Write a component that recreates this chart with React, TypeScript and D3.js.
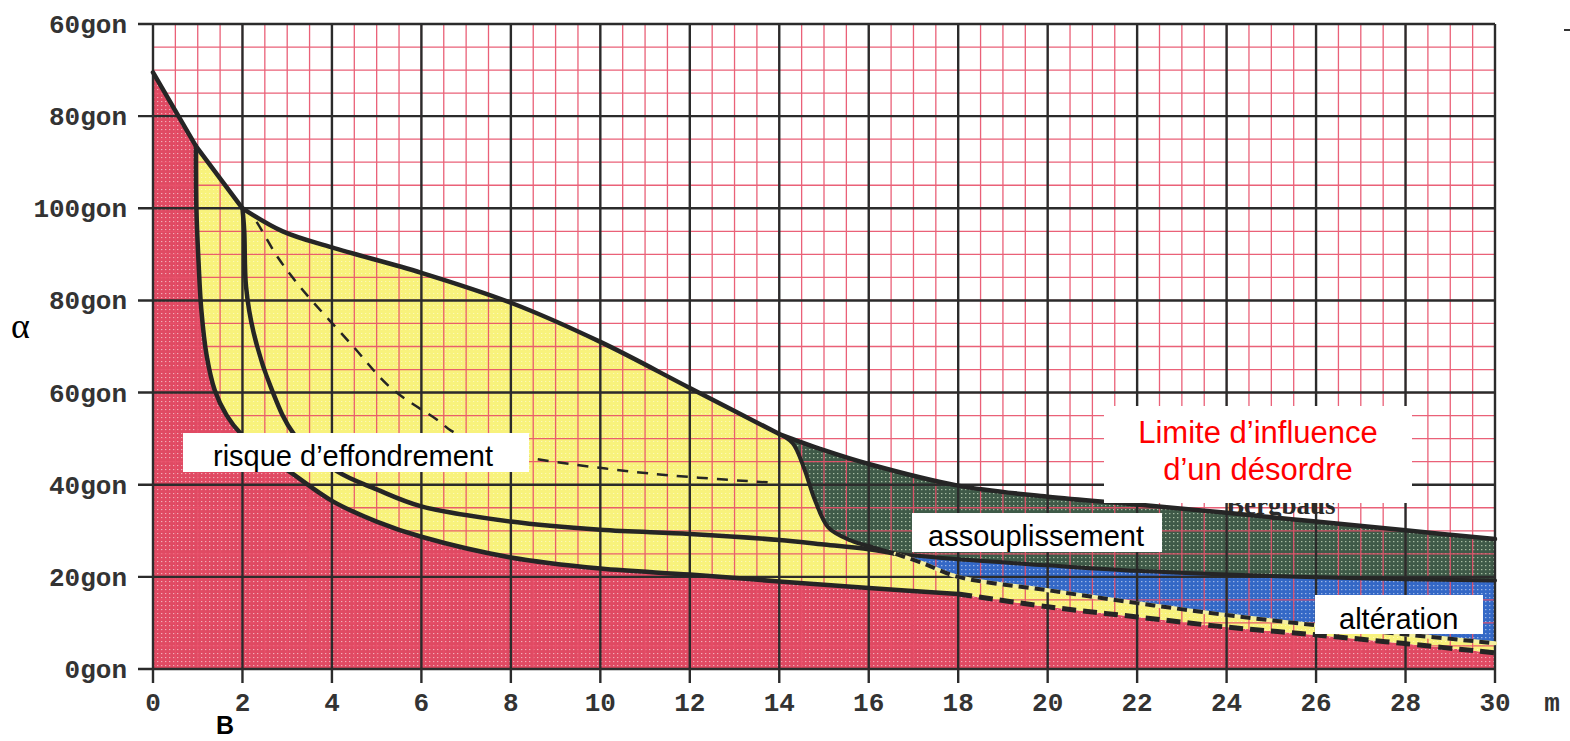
import React from 'react';
import * as d3 from 'd3';

// axis ticks (labels as printed on the scan)
const xTickValues = [0, 2, 4, 6, 8, 10, 12, 14, 16, 18, 20, 22, 24, 26, 28, 30];
const xTickLabels = ['0', '2', '4', '6', '8', '10', '12', '14', '16', '18', '20', '22', '24', '26', '28', '30'];
const yTickValues = [0, 20, 40, 60, 80, 100, 120, 140];
const yTickLabels = ['0gon', '20gon', '40gon', '60gon', '80gon', '100gon', '80gon', '60gon'];

// upper envelope, in pieces [m, gon]
const envA = [[0, 129.5], [0.96, 113.5]];
const envB = [[0.96, 113.5], [2, 100]];
const envC = [[2, 100], [2.9, 95], [4, 91.5], [6, 86], [8, 79.5], [10, 71], [12, 61], [14, 51]];
const envD = [[14, 51], [15, 47.5], [16, 44.5], [18, 39.8], [20, 37.4], [22, 35.7], [24, 33.9], [26, 32], [28, 30.1], [30, 28.2]];

// red / yellow limit
const redLimit = [[0.96, 113.5], [0.97, 100], [1.02, 88], [1.08, 78], [1.2, 68], [1.38, 60.5], [1.65, 55], [1.97, 51],
  [2.5, 46.5], [3.1, 42.5], [4, 36.5], [5, 32], [6, 28.7], [8, 24.2], [10, 21.8], [12, 20.5], [14, 19], [16, 17.6], [18, 16.3]];
const redLimitDashed = [[18, 16.3], [20, 13.5], [22, 11.3], [24, 9.1], [26, 7.4], [28, 5.5], [30, 3.5]];

// second curve from 2 m
const innerCurve = [[2, 100], [2.04, 95], [2.08, 83], [2.25, 73], [2.64, 61], [3.15, 51], [4.1, 43], [5, 39], [6, 35.3],
  [8, 32], [10, 30.2], [12, 29.3], [14, 28], [15, 27], [16, 26], [16.6, 25]];
const greenBlueLimit = [[16.6, 25], [18, 23.8], [20, 22.5], [22, 21.3], [24, 20.5], [26, 19.9], [28, 19.5], [30, 19.2]];

// left edge of the green zone
const greenEdge = [[14, 51], [14.3, 49], [14.55, 43.7], [14.8, 36.6], [15.1, 30.7], [15.6, 27.9], [16.1, 26.4], [16.6, 25]];

// lower edge of the blue zone
const blueLimit = [[16.6, 25], [17.2, 23], [18, 20], [20, 17.1], [22, 14.3], [24, 11.7], [26, 9.5], [28, 7.5], [30, 5.6]];

// dashed curve
const dashedCurve = [[2, 100], [2.19, 98.7], [2.8, 89.2], [3.31, 82.7], [4.43, 70.5], [5.32, 61], [6.38, 53.9], [6.67, 51.7],
  [7.5, 48], [8.39, 45.9], [11.14, 42.4], [13.76, 40.5]];

const W = 1570;
const H = 741;

export default function App() {
  const x = d3.scaleLinear().domain([0, 30]).range([153, 1495]);
  const y = d3.scaleLinear().domain([0, 140]).range([669, 24]);

  const lineGen = d3.line<number[]>()
    .x(d => x(d[0]))
    .y(d => y(d[1]))
    .curve(d3.curveCatmullRom.alpha(0.5));

  const seg = (pts: number[][], cont = false) => {
    const s = lineGen(pts) || '';
    return cont ? 'L' + s.slice(1) : s;
  };
  const rev = (pts: number[][]) => pts.slice().reverse();

  const redPath = `M${x(0)},${y(0)}L${x(0)},${y(129.5)}` + seg(envA, true) + seg(redLimit, true)
    + seg(redLimitDashed, true) + `L${x(30)},${y(0)}Z`;
  const yellowPath = seg(envB) + seg(envC, true) + seg(greenEdge, true) + seg(blueLimit, true)
    + seg(rev(redLimitDashed), true) + seg(rev(redLimit), true) + 'Z';
  const greenPath = seg(envD) + seg(rev(greenBlueLimit), true) + seg(rev(greenEdge), true) + 'Z';
  const bluePath = seg(greenBlueLimit) + seg(rev(blueLimit), true) + 'Z';

  const minorX = d3.range(0, 30.01, 0.5);
  const minorY = d3.range(0, 140.01, 5);

  const tickFont = { fontFamily: '"Liberation Mono", monospace', fontWeight: 700, fontSize: 26, fill: '#333' };
  const boxFont = { fontFamily: '"Liberation Sans", Arial, sans-serif', fontSize: 29 };
  const ink = '#252525';

  return (
    <svg width={W} height={H} style={{ position: 'absolute', left: 0, top: 0, background: '#fff' }}>
      <defs>
        <pattern id="dotsRed" width="4" height="4" patternUnits="userSpaceOnUse">
          <rect width="4" height="4" fill="#e04a63" />
          <rect x="1" y="1" width="1.3" height="1.1" fill="#fff" opacity="0.55" />
        </pattern>
        <pattern id="dotsYellow" width="4" height="4" patternUnits="userSpaceOnUse">
          <rect width="4" height="4" fill="#f8f27c" />
          <rect x="1" y="1" width="1.2" height="1" fill="#fffbe0" opacity="0.6" />
        </pattern>
        <pattern id="dotsGreen" width="4" height="4" patternUnits="userSpaceOnUse">
          <rect width="4" height="4" fill="#3f5a48" />
          <rect x="1" y="1" width="1.4" height="1.2" fill="#c8dcc0" opacity="0.75" />
        </pattern>
        <pattern id="dotsBlue" width="4" height="4" patternUnits="userSpaceOnUse">
          <rect width="4" height="4" fill="#3468c6" />
          <rect x="1" y="1" width="1.4" height="1.2" fill="#c6d6f4" opacity="0.7" />
        </pattern>
      </defs>

      {/* zones */}
      <path d={redPath} fill="url(#dotsRed)" />
      <path d={yellowPath} fill="url(#dotsYellow)" />
      <path d={bluePath} fill="url(#dotsBlue)" />
      <path d={greenPath} fill="url(#dotsGreen)" />

      {/* minor grid */}
      <g stroke="#e8506a" strokeWidth={1.3} opacity={0.9}>
        {minorX.map(v => <line key={'mx' + v} x1={x(v)} x2={x(v)} y1={y(0)} y2={y(140)} />)}
        {minorY.map(v => <line key={'my' + v} x1={x(0)} x2={x(30)} y1={y(v)} y2={y(v)} />)}
      </g>

      {/* major grid and ticks */}
      <g stroke="#2b2b2b" strokeWidth={2.4}>
        {xTickValues.map(v => <line key={'gx' + v} x1={x(v)} x2={x(v)} y1={y(140)} y2={y(0) + 14} />)}
        {yTickValues.map(v => <line key={'gy' + v} x1={x(0) - 15} x2={x(30)} y1={y(v)} y2={y(v)} />)}
      </g>

      {/* partially hidden scan text */}
      <text x={1226} y={514} style={{ fontFamily: '"Liberation Serif", serif', fontSize: 27, fontWeight: 700, fill: '#2a2a2a' }}>Bergbaus</text>

      {/* curves */}
      <g fill="none" stroke={ink} strokeLinecap="round" strokeLinejoin="round">
        <path d={seg(envA) + seg(envB, true) + seg(envC, true) + seg(envD, true)} strokeWidth={4.5} />
        <path d={seg(redLimit)} strokeWidth={4.5} />
        <path d={seg(redLimitDashed)} strokeWidth={5} strokeDasharray="14,7" strokeLinecap="butt" />
        <path d={seg(innerCurve)} strokeWidth={4.5} />
        <path d={seg(greenBlueLimit)} strokeWidth={4} />
        <path d={seg(greenEdge)} strokeWidth={4} />
        <path d={seg(blueLimit)} strokeWidth={4} stroke="#f5efa0" />
        <path d={seg(blueLimit)} strokeWidth={4} strokeDasharray="10,6" strokeLinecap="butt" />
        <path d={seg(dashedCurve)} strokeWidth={2.5} strokeDasharray="11,9" strokeLinecap="butt" />
      </g>

      {/* tick labels */}
      {yTickValues.map((v, i) => (
        <text key={'ty' + v} x={127} y={y(v) + 9} textAnchor="end" style={tickFont}>{yTickLabels[i]}</text>
      ))}
      {xTickValues.map((v, i) => (
        <text key={'tx' + v} x={x(v)} y={711} textAnchor="middle" style={tickFont}>{xTickLabels[i]}</text>
      ))}
      <text x={1552} y={711} textAnchor="middle" style={tickFont}>m</text>
      <text x={11} y={338} style={{ fontFamily: '"Liberation Serif", serif', fontSize: 36, fill: '#000' }}>α</text>
      <text x={216} y={734} style={{ fontFamily: '"Liberation Sans", Arial, sans-serif', fontSize: 25, fontWeight: 700, fill: '#000' }}>B</text>
      <line x1={1564} x2={1570} y1={30} y2={30} stroke="#333" strokeWidth={2} />

      {/* annotation boxes */}
      <rect x={183} y={433} width={346} height={39} fill="#fff" />
      <text x={213} y={466} style={{ ...boxFont, fill: '#000' }}>risque d’effondrement</text>

      <rect x={1104} y={406} width={308} height={97} fill="#fff" />
      <text x={1258} y={443} textAnchor="middle" style={{ ...boxFont, fontSize: 31, fill: '#ff0000' }}>Limite d’influence</text>
      <text x={1258} y={480} textAnchor="middle" style={{ ...boxFont, fontSize: 31, fill: '#ff0000' }}>d’un désordre</text>

      <rect x={912} y={513} width={250} height={39} fill="#fff" />
      <text x={928} y={546} style={{ ...boxFont, fill: '#000' }}>assouplissement</text>

      <rect x={1315} y={595} width={168} height={39} fill="#fff" />
      <text x={1339} y={629} style={{ ...boxFont, fill: '#000' }}>altération</text>
    </svg>
  );
}
